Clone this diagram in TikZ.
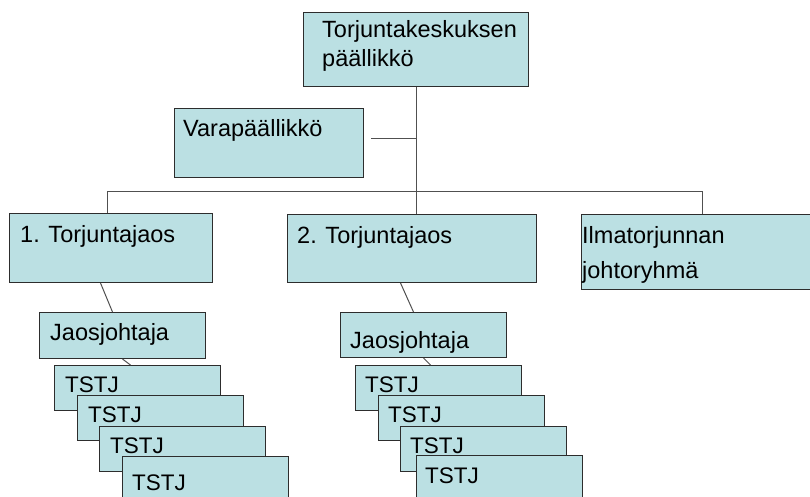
\documentclass[tikz,border=0pt]{standalone}
\usepackage{fontspec}
\setmainfont{Liberation Sans}
\usetikzlibrary{positioning, calc}
\definecolor{boxfill}{RGB}{187,224,227}
\definecolor{boxline}{RGB}{45,45,45}
\definecolor{connline}{RGB}{80,80,80}
\newcommand{\orgfont}{\fontsize{23.5}{29}\selectfont}
\newcommand{\tstjfont}{\fontsize{22.5}{27}\selectfont}
\tikzset{
  orgbox/.style={rectangle, draw=boxline, fill=boxfill, line width=1pt, anchor=north west, inner sep=0pt},
  tstj/.style={orgbox, minimum width=166pt, minimum height=45pt},
  orgtext/.style={anchor=base west, inner sep=0pt, align=left, font=\orgfont},
  tstjtext/.style={orgtext, font=\tstjfont},
  conn/.style={draw=connline, line width=1pt}
}

\begin{document}
\begin{tikzpicture}[x=1pt, y=-1pt]
\clip (0,0) rectangle (810,497);

% Boxes
\node[orgbox, minimum width=225pt, minimum height=74pt] (chief) at (303,12) {};
\node[orgbox, minimum width=189pt, minimum height=69pt] (vara) at (174,108) {};
\node[orgbox, minimum width=203pt, minimum height=69pt] (jaos1) at (9,213) {};
\node[orgbox, minimum width=249pt, minimum height=68pt] (jaos2) at (287,214) {};
\node[orgbox, minimum width=242pt, minimum height=75pt] (ilma) at (581,214) {};
\node[orgbox, minimum width=166pt, minimum height=46pt] (johtaja1) at (39,312) {};
\node[orgbox, minimum width=166pt, minimum height=45pt] (johtaja2) at (340,312) {};

% TSTJ stacks
\node[tstj] (ta1) at (54,365) {};
\node[tstj] (ta2) at ([shift={(23pt,-30pt)}]ta1.north west) {};
\node[tstj] (ta3) at ([shift={(22pt,-31pt)}]ta2.north west) {};
\node[tstj] (ta4) at ([shift={(23pt,-30pt)}]ta3.north west) {};
\node[tstj] (tb1) at (355,365) {};
\node[tstj] (tb2) at ([shift={(23pt,-30pt)}]tb1.north west) {};
\node[tstj] (tb3) at ([shift={(22pt,-31pt)}]tb2.north west) {};
\node[tstj] (tb4) at ([shift={(16pt,-29pt)}]tb3.north west) {};

% Texts (base = last line)
\node[orgtext] (t-chief) at ([shift={(19pt,-55pt)}]chief.north west) {Torjuntakeskuksen\\päällikkö};
\node[orgtext] (t-vara) at ([shift={(9pt,-29pt)}]vara.north west) {Varapäällikkö};
\node[orgtext] (t-jaos1) at ([shift={(11pt,-29pt)}]jaos1.north west) {1. Torjuntajaos};
\node[orgtext] (t-jaos2) at ([shift={(10pt,-29pt)}]jaos2.north west) {2. Torjuntajaos};
\node[orgtext] (t-ilma) at ([shift={(1pt,-64pt)}]ilma.north west) {Ilmatorjunnan\\[6pt]johtoryhmä};
\node[orgtext] (t-johtaja1) at ([shift={(11pt,-28pt)}]johtaja1.north west) {Jaosjohtaja};
\node[orgtext] (t-johtaja2) at ([shift={(10pt,-36pt)}]johtaja2.north west) {Jaosjohtaja};
\node[tstjtext] (t-ta1) at ([shift={(11pt,-27pt)}]ta1.north west) {TSTJ};
\node[tstjtext] (t-ta2) at ([shift={(11pt,-27pt)}]ta2.north west) {TSTJ};
\node[tstjtext] (t-ta3) at ([shift={(11pt,-27pt)}]ta3.north west) {TSTJ};
\node[tstjtext] (t-ta4) at ([shift={(10pt,-34pt)}]ta4.north west) {TSTJ};
\node[tstjtext] (t-tb1) at ([shift={(10pt,-27pt)}]tb1.north west) {TSTJ};
\node[tstjtext] (t-tb2) at ([shift={(10pt,-27pt)}]tb2.north west) {TSTJ};
\node[tstjtext] (t-tb3) at ([shift={(10pt,-27pt)}]tb3.north west) {TSTJ};
\node[tstjtext] (t-tb4) at ([shift={(9pt,-28pt)}]tb4.north west) {TSTJ};

% Connectors
\draw[conn] (chief.south) -- (chief.south |- jaos2.north);
\coordinate (vjoin) at ([xshift=7pt,yshift=4.5pt]vara.east);
\draw[conn] (vjoin) -- (vjoin -| chief.south);
\coordinate (bus) at (415,191.5);
\draw[conn] ([xshift=-3.5pt]jaos1.north) -- ([xshift=-3.5pt]jaos1.north |- bus)
  -- (ilma.north |- bus) -- (ilma.north);
\draw[conn] ([xshift=-10.5pt]jaos1.south) -- ([xshift=-10pt]johtaja1.north);
\draw[conn] (johtaja1.south) -- ([xshift=-7pt]ta1.north);
\draw[conn] ([xshift=-11.5pt]jaos2.south) -- ([xshift=-10pt]johtaja2.north);
\draw[conn] (johtaja2.south) -- ([xshift=-8pt]tb1.north);
\end{tikzpicture}
\end{document}
